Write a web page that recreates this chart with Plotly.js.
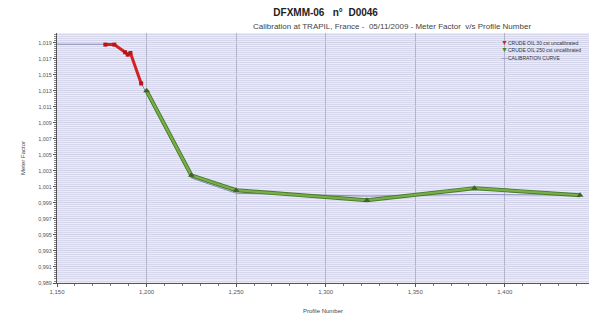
<!DOCTYPE html>
<html><head><meta charset="utf-8">
<script src="https://cdn.plot.ly/plotly-3.0.1.min.js"></script>
<style>html,body{margin:0;padding:0;background:#fff}#chart{width:592px;height:320px}</style>
</head><body><div id="chart"></div>
<script>
// Data
var redX = [1177, 1182, 1188, 1189.5, 1191, 1197];
var redY = [1.01875, 1.01875, 1.0178, 1.0175, 1.0177, 1.0139];
var greenX = [1200, 1225, 1250, 1323, 1383, 1442];
var greenY = [1.0130, 1.00244, 1.00058, 0.99933, 1.00083, 0.99995];
var calX = [1150, 1177, 1182, 1188, 1191, 1197, 1200, 1225, 1250, 1323, 1383, 1442];
var calY = [1.0188, 1.0188, 1.0188, 1.0178, 1.0176, 1.0139, 1.0127, 1.0021, 1.0002, 0.99985, 1.00005, 0.99995];
var yTickVals = [0.989, 0.991, 0.993, 0.995, 0.997, 0.999, 1.001, 1.003, 1.005, 1.007, 1.009, 1.011, 1.013, 1.015, 1.017, 1.019];
var yTickText = yTickVals.map(function(v){ return v.toFixed(3).replace('.', ','); });
var seriesNames = ['CRUDE OIL 30 cst uncalibrated', 'CRUDE OIL 250 cst uncalibrated', 'CALIBRATION CURVE'];
var seriesColors = ['#d42222', '#3e8a28', '#7a7ab8'];
var seriesSymbols = ['▼', '▼', '—'];

var font = 'Liberation Sans, Arial, sans-serif';
var traces = [
  {x: calX, y: calY, name: seriesNames[2], mode: 'lines',
   line: {color: '#8a8ab8', width: 1}},
  {x: greenX, y: greenY, name: seriesNames[1], mode: 'lines', hoverinfo: 'skip',
   line: {color: '#4a7a2a', width: 4}},
  {x: redX, y: redY, name: seriesNames[0], mode: 'lines+markers',
   line: {color: '#d42222', width: 3}, marker: {symbol: 'square', size: 4, color: '#b81515'}},
  {x: greenX, y: greenY, name: seriesNames[1], mode: 'lines+markers',
   line: {color: '#78b048', width: 2.2}, marker: {symbol: 'triangle-up', size: 6, color: '#3e6228'}}
];
var annotations = [{text: 'Calibration at TRAPIL, France -  05/11/2009 - Meter Factor  v/s Profile Number', xref: 'paper', yref: 'paper', x: 0.63, y: 1.0, yanchor: 'bottom', xanchor: 'center', showarrow: false, yshift: 0, font: {family: font, size: 8, color: '#444'}}];
seriesNames.forEach(function(n, i){
  annotations.push({xref: 'paper', yref: 'paper', x: 0.83, y: 0.985 - i*0.03, xanchor: 'left', yanchor: 'top', showarrow: false,
    text: '<span style="color:' + seriesColors[i] + ';font-size:7px">' + seriesSymbols[i] + '</span>' + n,
    font: {family: font, size: 5, color: '#333'}});
});
var layout = {
  width: 592, height: 320,
  margin: {l: 57, r: 3, t: 33, b: 37},
  paper_bgcolor: '#ffffff', plot_bgcolor: '#ebebf8',
  font: {family: font, size: 6, color: '#555'},
  showlegend: false,
  title: {text: '<b>DFXMM-06   n°  D0046</b>', x: 0.55, xanchor: 'center', y: 0.962, yanchor: 'middle', font: {family: font, size: 10, color: '#222'}},
  annotations: annotations,
  xaxis: {range: [1150, 1447], tickvals: [1150, 1200, 1250, 1300, 1350, 1400, 1450], tickformat: ',d',
    showgrid: true, gridcolor: '#b4b4c8', gridwidth: 1, zeroline: false,
    showline: true, linecolor: '#555', linewidth: 1, ticks: 'outside', ticklen: 3, tickcolor: '#555',
    minor: {dtick: 10, tick0: 1150, ticks: 'outside', ticklen: 2, tickcolor: '#777', showgrid: false},
    title: {text: 'Profile Number', standoff: 14, font: {family: font, size: 6, color: '#444'}},
    tickfont: {family: font, size: 6, color: '#555'}},
  yaxis: {range: [0.989, 1.0202], tickmode: 'array', tickvals: yTickVals, ticktext: yTickText,
    showgrid: true, gridcolor: '#d0d0e8', gridwidth: 1, zeroline: false,
    showline: true, linecolor: '#555', linewidth: 1, ticks: 'outside', ticklen: 3, tickcolor: '#555',
    minor: {dtick: 0.00025, tick0: 0.989, showgrid: true, gridcolor: '#d6d6ec', gridwidth: 1, ticks: 'outside', ticklen: 2, tickcolor: '#888'},
    title: {text: 'Meter Factor', standoff: 12, font: {family: font, size: 6, color: '#444'}},
    tickfont: {family: font, size: 5.5, color: '#555'}}
};
Plotly.newPlot('chart', traces, layout, {displayModeBar: false, staticPlot: true});
</script></body></html>
